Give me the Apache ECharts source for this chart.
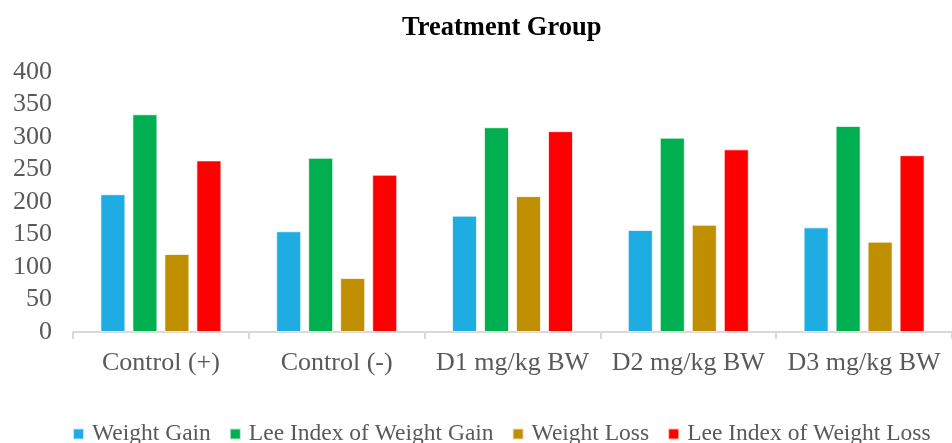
<!DOCTYPE html>
<html>
<head>
<meta charset="utf-8">
<script src="https://cdn.jsdelivr.net/npm/echarts@6/dist/echarts.min.js"></script>
<style>
  html, body { margin: 0; padding: 0; background: #fff; }
  #chart { width: 952px; height: 443px; }
</style>
</head>
<body>
<div id="chart"></div>
<script>
// Treatment groups along the x axis
const categories = ['Control (+)', 'Control (-)', 'D1 mg/kg BW', 'D2 mg/kg BW', 'D3 mg/kg BW'];

// Measured values per group
const weightGain = [212, 155, 179, 157, 161];
const leeIndexGain = [335, 268, 315, 299, 317];
const weightLoss = [120, 83, 209, 165, 139];
const leeIndexLoss = [264, 242, 309, 281, 272];

const seriesNames = ['Weight Gain', 'Lee Index of Weight Gain', 'Weight Loss', 'Lee Index of Weight Loss'];
const seriesColors = ['#1FACE3', '#00AF50', '#BF8F00', '#FF0000'];
const seriesData = [weightGain, leeIndexGain, weightLoss, leeIndexLoss];

const serif = '"Liberation Serif", "DejaVu Serif", serif';
const grey = '#595959';

const chart = echarts.init(document.getElementById('chart'), null, { renderer: 'canvas' });

chart.setOption({
  animation: false,
  backgroundColor: '#ffffff',
  title: {
    text: 'Treatment Group',
    left: 397,
    top: 10,
    textStyle: { fontFamily: serif, fontWeight: 'bold', fontSize: 26.5, color: '#000' }
  },
  legend: {
    top: 417,
    left: 67,
    width: 900,
    itemWidth: 11,
    itemHeight: 11,
    itemGap: 18,
    icon: 'rect',
    textStyle: { fontFamily: serif, fontSize: 23.5, color: grey, padding: [0, 0, 0, 3] },
    data: seriesNames
  },
  grid: { left: 73, top: 72, width: 885, height: 260, containLabel: false },
  xAxis: {
    type: 'category',
    data: categories,
    axisLine: { lineStyle: { color: '#D9D9D9', width: 2 } },
    axisTick: { show: true, length: 7, lineStyle: { color: '#D9D9D9', width: 2 } },
    axisLabel: { interval: 0, fontFamily: serif, fontSize: 26, color: grey, margin: 18 }
  },
  yAxis: {
    type: 'value',
    min: 0,
    max: 400,
    interval: 50,
    axisLine: { show: false },
    axisTick: { show: false },
    splitLine: { show: false },
    axisLabel: { fontFamily: serif, fontSize: 26, color: grey, margin: 21 }
  },
  series: seriesData.map((data, i) => ({
    name: seriesNames[i],
    type: 'bar',
    data: data,
    barWidth: 25,
    barGap: '28%',
    itemStyle: { color: seriesColors[i], borderColor: 'rgba(255,255,255,0.7)', borderWidth: 1 }
  }))
});
</script>
</body>
</html>
